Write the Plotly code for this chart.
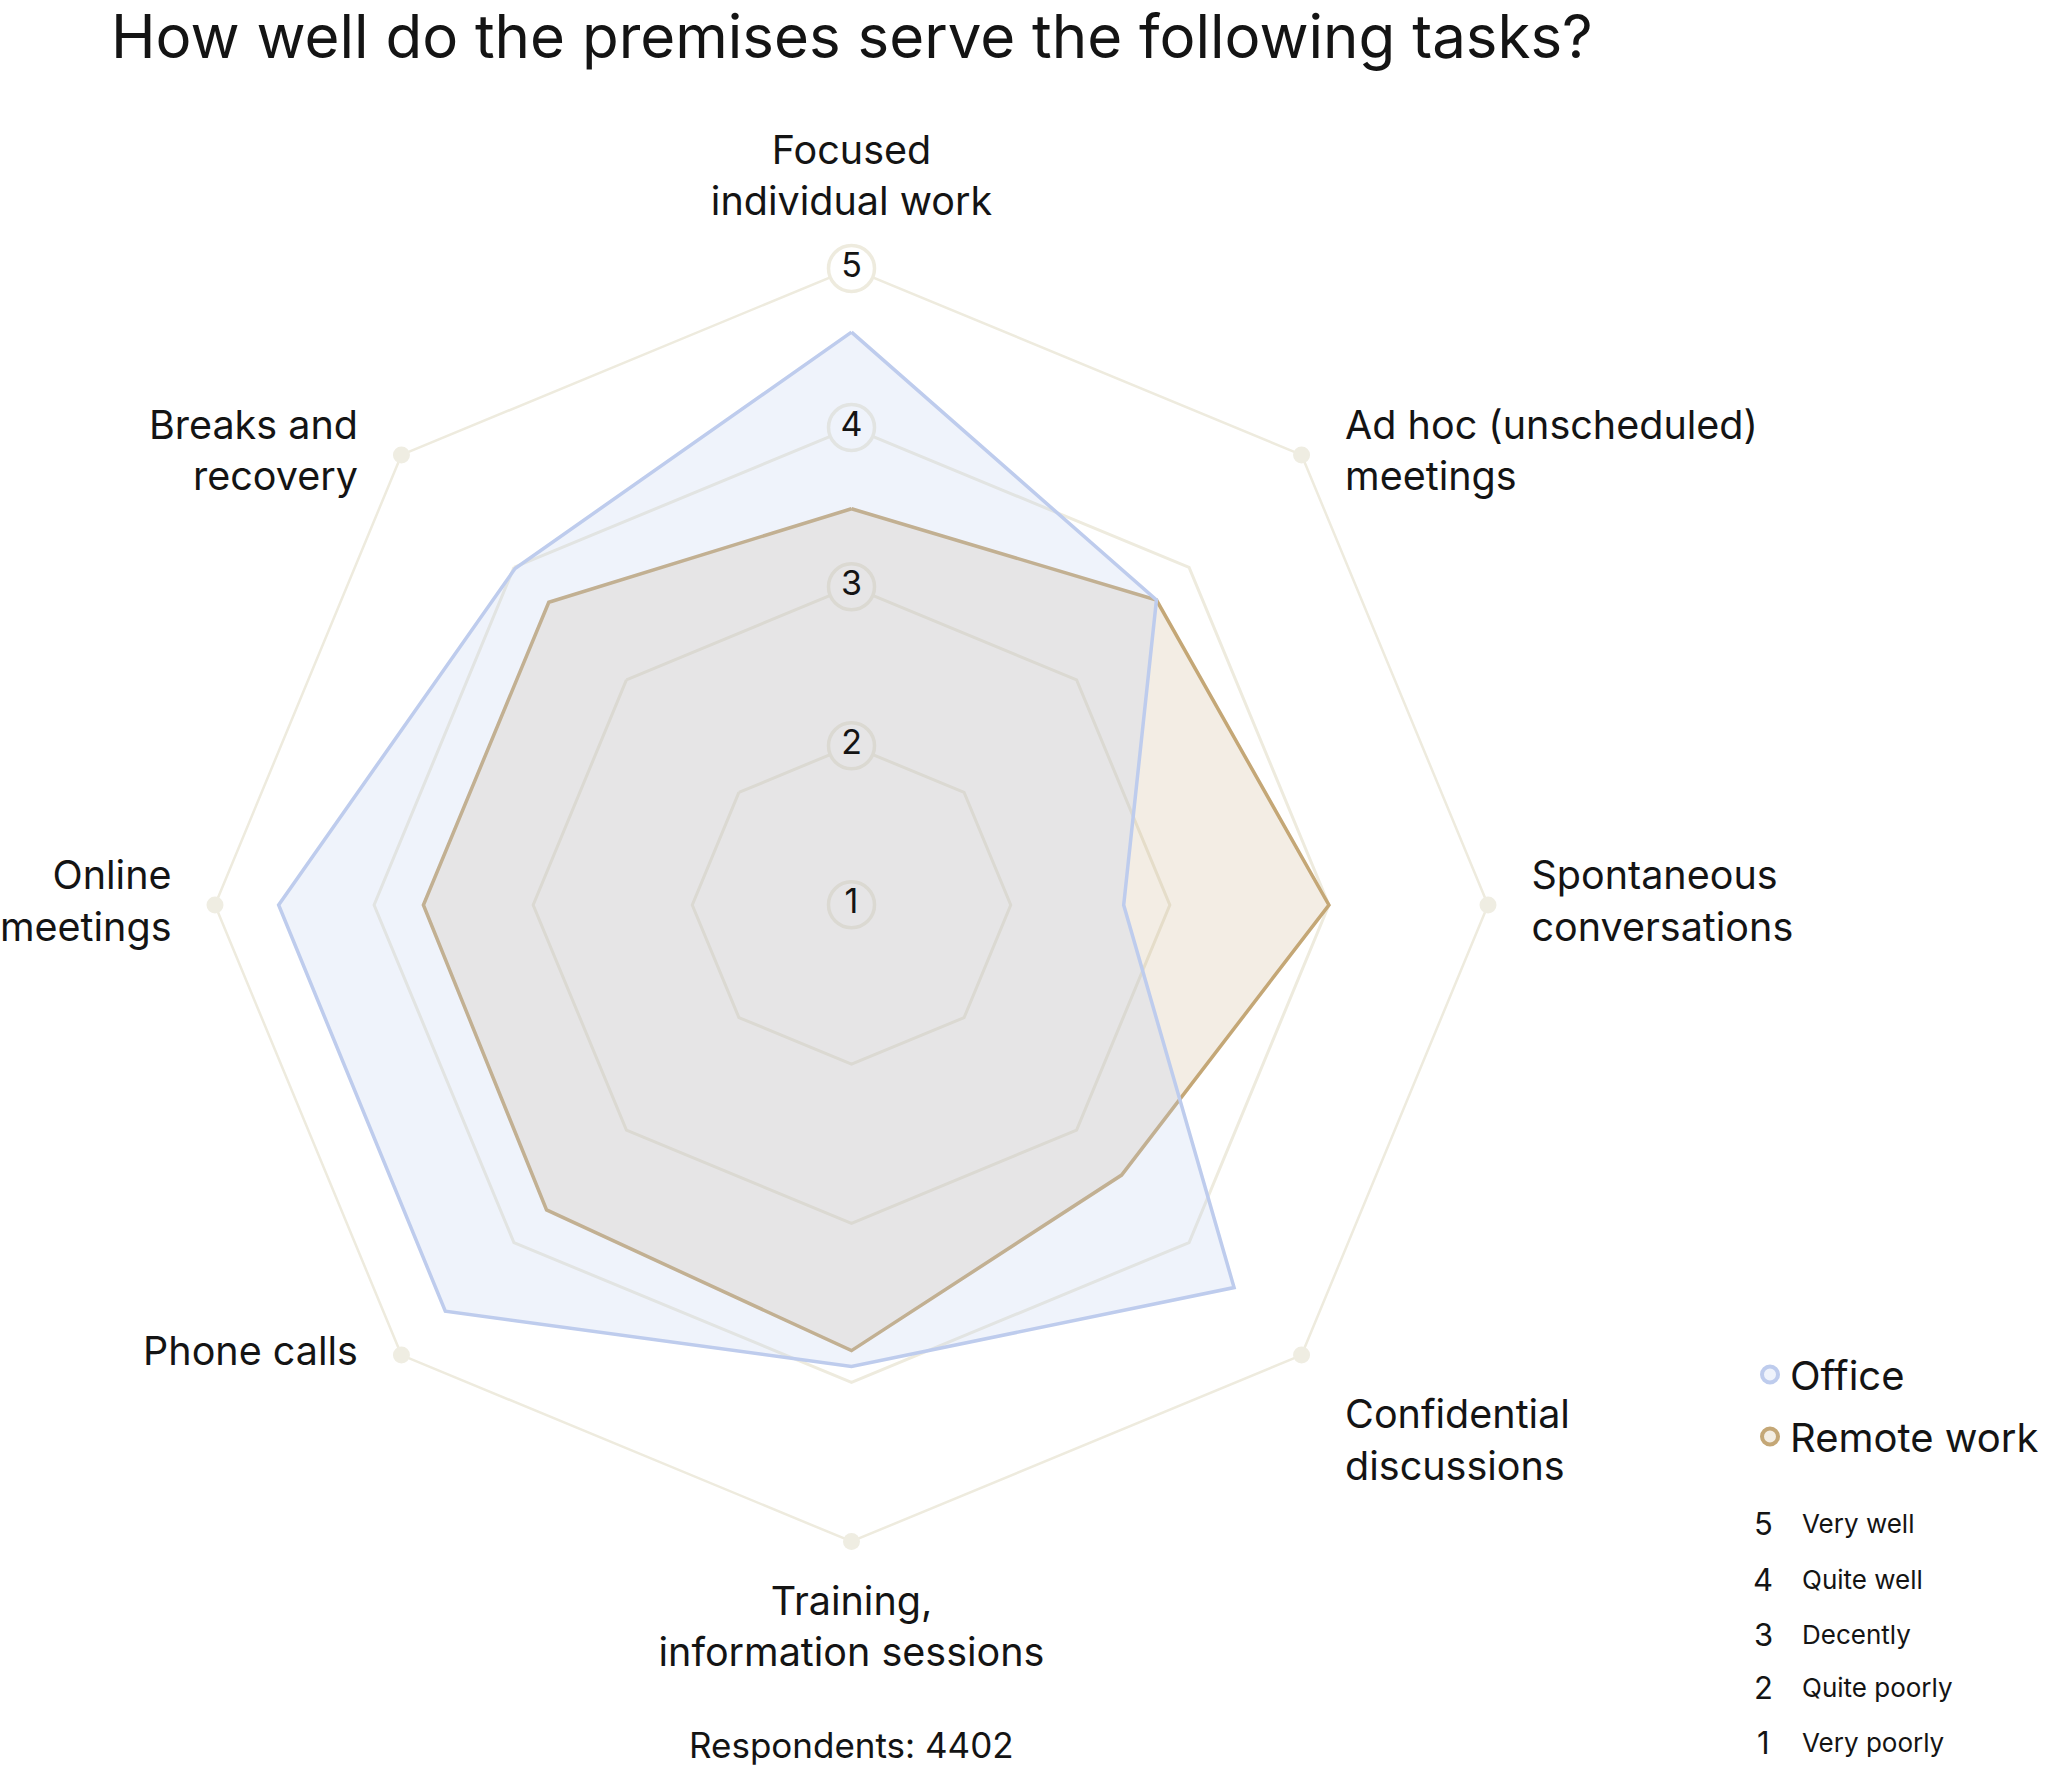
import plotly.graph_objects as go

# ---------------- data ----------------
categories = [
    "Focused<br>individual work",
    "Ad hoc (unscheduled)<br>meetings",
    "Spontaneous<br>conversations",
    "Confidential<br>discussions",
    "Training,<br>information sessions",
    "Phone calls",
    "Online<br>meetings",
    "Breaks and<br>recovery",
]
office = [4.60, 3.71, 2.71, 4.40, 3.90, 4.61, 4.60, 3.99]
remote = [3.49, 3.71, 4.00, 3.40, 3.80, 3.71, 3.69, 3.69]
series_names = ["Office", "Remote work"]
ring_levels = [1, 2, 3, 4, 5]
scale_numbers = ["5", "4", "3", "2", "1"]
scale_labels = ["Very well", "Quite well", "Decently", "Quite poorly", "Very poorly"]
title_text = "How well do the premises serve the following tasks?"
respondents_text = "Respondents: 4402"

# ---------------- style ----------------
W, H = 2048, 1766
FONT = "Inter"
TXT = "#141414"
GRID = "rgb(238,235,222)"
DOT = "rgb(239,237,226)"
OFFICE_LINE = "rgb(190,204,237)"
OFFICE_FILL = "rgba(190,204,237,0.24)"
REMOTE_LINE = "rgb(196,167,118)"
REMOTE_FILL = "rgba(196,167,118,0.20)"
# where each category label sits relative to its outer vertex
label_positions = [
    "top center", "middle right", "middle right", "bottom right",
    "bottom center", "middle left", "middle left", "middle left",
]

def closed(v):
    return list(v) + [v[0]]

fig = go.Figure()

# ring-label circles (below the areas so the areas tint them)
fig.add_trace(go.Scatterpolar(
    r=ring_levels, theta=[categories[0]] * len(ring_levels),
    mode="markers", cliponaxis=False,
    marker=dict(size=46, color="white", line=dict(color=GRID, width=3.5)),
    showlegend=False, hoverinfo="skip",
))

# outer vertex dots
fig.add_trace(go.Scatterpolar(
    r=[ring_levels[-1]] * (len(categories) - 1), theta=categories[1:],
    mode="markers", cliponaxis=False,
    marker=dict(size=17, color=DOT),
    showlegend=False, hoverinfo="skip",
))

# data areas
fig.add_trace(go.Scatterpolar(
    r=closed(remote), theta=closed(categories), name=series_names[1],
    mode="lines", fill="toself", fillcolor=REMOTE_FILL,
    line=dict(color=REMOTE_LINE, width=3.5),
    showlegend=False,
))
fig.add_trace(go.Scatterpolar(
    r=closed(office), theta=closed(categories), name=series_names[0],
    mode="lines", fill="toself", fillcolor=OFFICE_FILL,
    line=dict(color=OFFICE_LINE, width=3.5),
    showlegend=False,
))

# ring-label numbers
fig.add_trace(go.Scatterpolar(
    r=ring_levels, theta=[categories[0]] * len(ring_levels),
    mode="text", text=[str(v) for v in ring_levels], cliponaxis=False,
    textfont=dict(family=FONT, size=34, color=TXT),
    showlegend=False, hoverinfo="skip",
))

# category labels, anchored at the outer vertices
fig.add_trace(go.Scatterpolar(
    r=[ring_levels[-1]] * len(categories), theta=categories,
    mode="markers+text", text=categories, textposition=label_positions,
    cliponaxis=False,
    marker=dict(size=68, color="rgba(0,0,0,0)"),
    textfont=dict(family=FONT, size=39.5, color=TXT),
    showlegend=False, hoverinfo="skip",
))

# legend entries
fig.add_trace(go.Scatterpolar(
    r=[None], theta=[categories[0]], name=series_names[0], mode="markers",
    legendgroup="office",
    marker=dict(size=16, color="rgb(239,243,251)", line=dict(color=OFFICE_LINE, width=4)),
))
fig.add_trace(go.Scatterpolar(
    r=[None], theta=[categories[0]], name=series_names[1], mode="markers",
    legendgroup="remote",
    marker=dict(size=16, color="rgb(243,237,227)", line=dict(color=REMOTE_LINE, width=4)),
))

cx, cy, R = 851.5, 905.0, 636.5
fig.update_layout(
    width=W, height=H,
    margin=dict(l=0, r=0, t=0, b=0),
    paper_bgcolor="white",
    font=dict(family=FONT, color=TXT),
    title=dict(
        text=title_text, x=111 / W, xanchor="left", xref="paper",
        y=1 - 37 / H, yanchor="middle", yref="container",
        font=dict(family=FONT, size=60, color=TXT),
    ),
    polar=dict(
        domain=dict(x=[(cx - R) / W, (cx + R) / W], y=[(H - cy - R) / H, (H - cy + R) / H]),
        bgcolor="rgba(0,0,0,0)",
        gridshape="linear",
        radialaxis=dict(
            range=[0.999, 5], tickvals=ring_levels, showticklabels=False,
            showline=False, ticks="", gridcolor=GRID, gridwidth=2.5,
            layer="below traces",
        ),
        angularaxis=dict(
            direction="clockwise", rotation=90, showgrid=False,
            showline=True, linecolor=GRID, linewidth=2.5,
            ticks="", showticklabels=False,
            layer="below traces",
        ),
    ),
    showlegend=True,
    legend=dict(
        x=1750 / W, xanchor="left", y=1 - 1342 / H, yanchor="top",
        font=dict(family=FONT, size=40, color=TXT),
        bgcolor="rgba(0,0,0,0)", itemsizing="trace", tracegroupgap=7,
    ),
)

annotations = []
scale_y = [1523, 1579, 1634, 1687, 1742]
for num, lab, yy in zip(scale_numbers, scale_labels, scale_y):
    annotations.append(dict(
        x=1763 / W, y=1 - yy / H, xref="paper", yref="paper", text=num,
        showarrow=False, xanchor="center", yanchor="middle",
        font=dict(family=FONT, size=31, color=TXT),
    ))
    annotations.append(dict(
        x=1800 / W, y=1 - yy / H, xref="paper", yref="paper", text=lab,
        showarrow=False, xanchor="left", yanchor="middle",
        font=dict(family=FONT, size=26, color=TXT),
    ))
annotations.append(dict(
    x=cx / W, y=1 - 1745 / H, xref="paper", yref="paper", text=respondents_text,
    showarrow=False, xanchor="center", yanchor="middle",
    font=dict(family=FONT, size=35, color=TXT),
))
fig.update_layout(annotations=annotations)

fig.write_html(
    "out.html",
    config={"displayModeBar": False},
    post_script="document.body.style.margin='0';document.body.style.overflow='hidden';",
)
